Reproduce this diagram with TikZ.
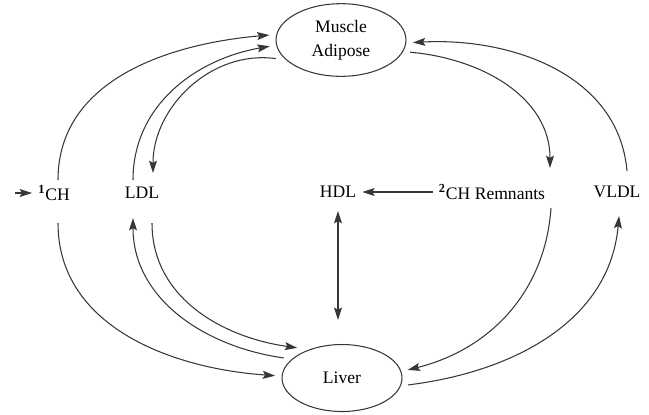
\documentclass[tikz,border=0pt]{standalone}
\usepackage{fontspec}
\setmainfont{Liberation Serif}
\usepackage{xcolor}
\usepackage{tikz}
\usetikzlibrary{arrows.meta,calc,shapes.geometric}
\definecolor{GrisLinea}{RGB}{55,55,55}

\begin{document}
\begin{tikzpicture}[x=0.02cm,y=-0.02cm,>={Stealth[length=7pt,width=4.5pt,inset=1.2pt]},
  organ/.style={draw=GrisLinea,line width=0.6pt,ellipse,outer sep=4pt,align=center,
    font=\rmfamily\fontsize{10}{13.5}\selectfont},
  lipido/.style={font=\rmfamily\fontsize{10}{12}\selectfont},
  flujo/.style={->,line width=0.6pt,GrisLinea}]
  \useasboundingbox (0,0) rectangle (649,414);
  \node[organ,minimum width=2.6cm,minimum height=1.24cm] (muscle) at (341,40) {Muscle\\Adipose};
  \node[organ,minimum width=2.4cm,minimum height=1.34cm] (liver) at (342,378) {Liver};
  \node[lipido] (ch1) at (54,193) {\textsuperscript{\textbf{1}}CH};
  \node[lipido] (ldl) at (142,193) {LDL};
  \node[lipido] (hdl) at (338,192) {HDL};
  \node[lipido] (rem) at (492,192) {\textsuperscript{\textbf{2}}CH Remnants};
  \node[lipido] (vldl) at (617,192) {VLDL};
  \coordinate (entrada) at (15,193);
  \draw[flujo] (entrada) -- (ch1.west);
  \draw[flujo] ($(ch1)+(4,-13)$) to[out=90,in=185] (muscle.176);
  \draw[flujo] ($(ldl)+(-9,-13)$) to[out=90,in=190] (muscle.185);
  \draw[flujo] (muscle.196) to[out=172,in=90] ($(ldl)+(11,-20)$);
  \draw[flujo] (muscle.350) to[out=-5,in=90] ($(rem)+(58,-24)$);
  \draw[flujo] ($(vldl)+(10,-21)$) to[out=95,in=3] (muscle.358);
  \draw[flujo] (rem.west) -- (hdl.east);
  \draw[flujo,<->,shorten <=4pt,shorten >=10pt] (hdl.south) -- (hdl.south |- liver.north);
  \draw[flujo] ($(ch1)+(4,30)$) to[out=-90,in=176] (liver.178);
  \draw[flujo] (liver.161) to[out=172,in=-90] ($(ldl)+(-9,25)$);
  \draw[flujo] ($(ldl)+(10,30)$) to[out=-90,in=172] (liver.146);
  \draw[flujo] ($(rem)+(59,16)$) to[out=-94,in=14] (liver.7);
  \draw[flujo] (liver.354) to[out=7,in=-95] ($(vldl)+(2,24)$);
\end{tikzpicture}
\end{document}
